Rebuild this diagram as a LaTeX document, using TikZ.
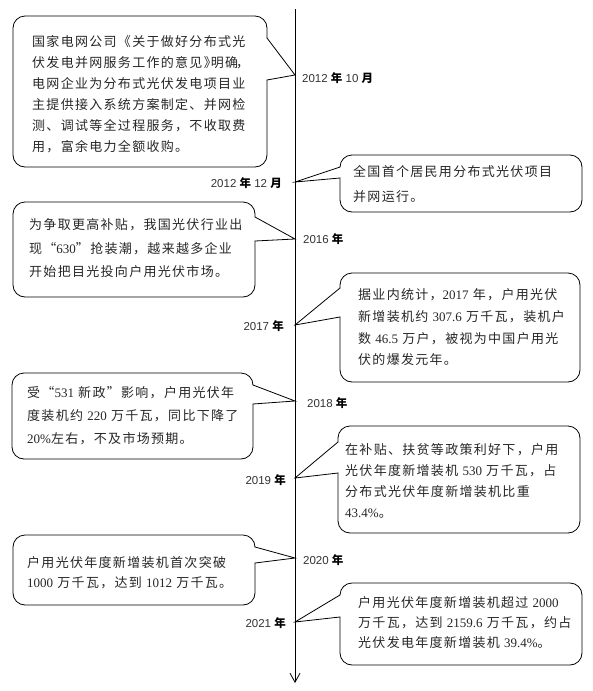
\documentclass[tikz,border=0pt]{standalone}
\usepackage{fontspec}
\setmainfont{Liberation Serif}
\newfontfamily\cjk[LetterSpace=10]{Noto Sans CJK SC}
\newfontfamily\cjklab{Noto Sans CJK SC}
\newfontfamily\lab{Liberation Sans}
\usetikzlibrary{arrows.meta}
\newcommand\nm[1]{{\rmfamily #1}}
\newcommand\nian{{\cjklab\bfseries\color{black} 年}}
\newcommand\yue{{\cjklab\bfseries\color{black} 月}}
\tikzset{
  bline/.style={line width=0.8pt, rounded corners=12pt, line cap=round, line join=round},
  pline/.style={line width=0.8pt, line cap=round, line join=miter},
  btext/.style={anchor=north west, inner sep=0pt, align=left, text=black!85,
    font=\cjk\fontsize{13}{#1}\selectfont},
  ylab/.style={inner sep=0pt, text=black!80, font=\lab\fontsize{11.5}{13}\selectfont},
  axisline/.style={line width=0.9pt, -{Straight Barb[length=9pt,width=10pt,line width=0.8pt]}},
}
\begin{document}
\begin{tikzpicture}[x=1pt,y=-1pt]
\useasboundingbox (0,0) rectangle (592,691);
% axis
\coordinate (axtop) at (295,9);
\coordinate (axbot) at (295,683);
\draw[axisline] (axtop) -- (axbot);
% pointer tips on the axis
\coordinate (t1) at (295,75);
\coordinate (t2) at (295,182);
\coordinate (t3) at (295,239);
\coordinate (t4) at (295,325);
\coordinate (t5) at (295,401);
\coordinate (t6) at (295,478);
\coordinate (t7) at (295,558);
\coordinate (t8) at (295,622);
% year labels
\node[ylab, anchor=west] (y1) at (302,78) {2012 \nian{} 10 \yue};
\node[ylab, anchor=east] (y2) at (282,183) {2012 \nian{} 12 \yue};
\node[ylab, anchor=west] (y3) at (303,239) {2016 \nian};
\node[ylab, anchor=east] (y4) at (284,326) {2017 \nian};
\node[ylab, anchor=west] (y5) at (307,403) {2018 \nian};
\node[ylab, anchor=east] (y6) at (286,480) {2019 \nian};
\node[ylab, anchor=west] (y7) at (303,560) {2020 \nian};
\node[ylab, anchor=east] (y8) at (286,623) {2021 \nian};
% box 1 (left)
\draw[bline] (267,80) -- (267,167) -- (13,167) -- (13,16) -- (267,16) -- (267,38);
\draw[pline] (267,38) -- (t1) -- (267,80);
\node[btext=21] (b1) at (32,35.5) {国家电网公司《关于做好分布式光\\伏发电并网服务工作的意见》\kern-6pt 明确\kern-2pt ，\\电网企业为分布式光伏发电项目业\\主提供接入系统方案制定、并网检\\测、调试等全过程服务，不收取费\\用，富余电力全额收购。};
% box 2 (right)
\draw[bline] (340,178) -- (340,212) -- (582,212) -- (582,155) -- (340,155) -- (340,167);
\draw[pline] (340,167) -- (t2) -- (340,178);
\node[btext=24.4] (b2) at (353,165.5) {全国首个居民用分布式光伏项目\\并网运行。};
% box 3 (left)
\draw[bline] (255,241) -- (255,297) -- (13,297) -- (13,202) -- (255,202) -- (255,217);
\draw[pline] (255,217) -- (t3) -- (255,241);
\node[btext=23.5] (b3) at (29,218.5) {为争取更高补贴，我国光伏行业出\\现“\nm{630}”抢装潮，越来越多企业\\开始把目光投向户用光伏市场。};
% box 4 (right)
\draw[bline] (340,317) -- (340,382) -- (580,382) -- (580,273) -- (340,273) -- (340,288);
\draw[pline] (340,288) -- (t4) -- (340,317);
\node[btext=21.7] (b4) at (358,288.5) {据业内统计，\nm{2017} 年，户用光伏\\新增装机约 \nm{307.6} 万千瓦，装机户\\数 \nm{46.5} 万户，被视为中国户用光\\伏的爆发元年。};
% box 5 (left)
\draw[bline] (253,404) -- (253,459) -- (12,459) -- (12,373) -- (253,373) -- (253,385);
\draw[pline] (253,385) -- (t5) -- (253,404);
\node[btext=23] (b5) at (27,386.5) {受“\nm{531} 新政”影响，户用光伏年\\度装机约 \nm{220} 万千瓦，同比下降了\\\nm{20\%}左右，不及市场预期。};
% box 6 (right)
\draw[bline] (338,473) -- (338,533) -- (580,533) -- (580,426) -- (338,426) -- (338,442);
\draw[pline] (338,442) -- (t6) -- (338,473);
\node[btext=21] (b6) at (345,443.5) {在补贴、扶贫等政策利好下，户用\\光伏年度新增装机 \nm{530} 万千瓦，占\\分布式光伏年度新增装机比重\\\nm{43.4\%}。};
% box 7 (left)
\draw[bline] (255,563) -- (255,605) -- (13,605) -- (13,535) -- (255,535) -- (255,547);
\draw[pline] (255,547) -- (t7) -- (255,563);
\node[btext=20] (b7) at (27,556.5) {户用光伏年度新增装机首次突破\\\nm{1000} 万千瓦，达到 \nm{1012} 万千瓦。};
% box 8 (right)
\draw[bline] (340,617) -- (340,665) -- (582,665) -- (582,583) -- (340,583) -- (340,595);
\draw[pline] (340,595) -- (t8) -- (340,617);
\node[btext=20] (b8) at (358,596.5) {户用光伏年度新增装机超过 \nm{2000}\\万千瓦，达到 \nm{2159.6} 万千瓦，约占\\光伏发电年度新增装机 \nm{39.4\%}。};
\end{tikzpicture}
\end{document}
